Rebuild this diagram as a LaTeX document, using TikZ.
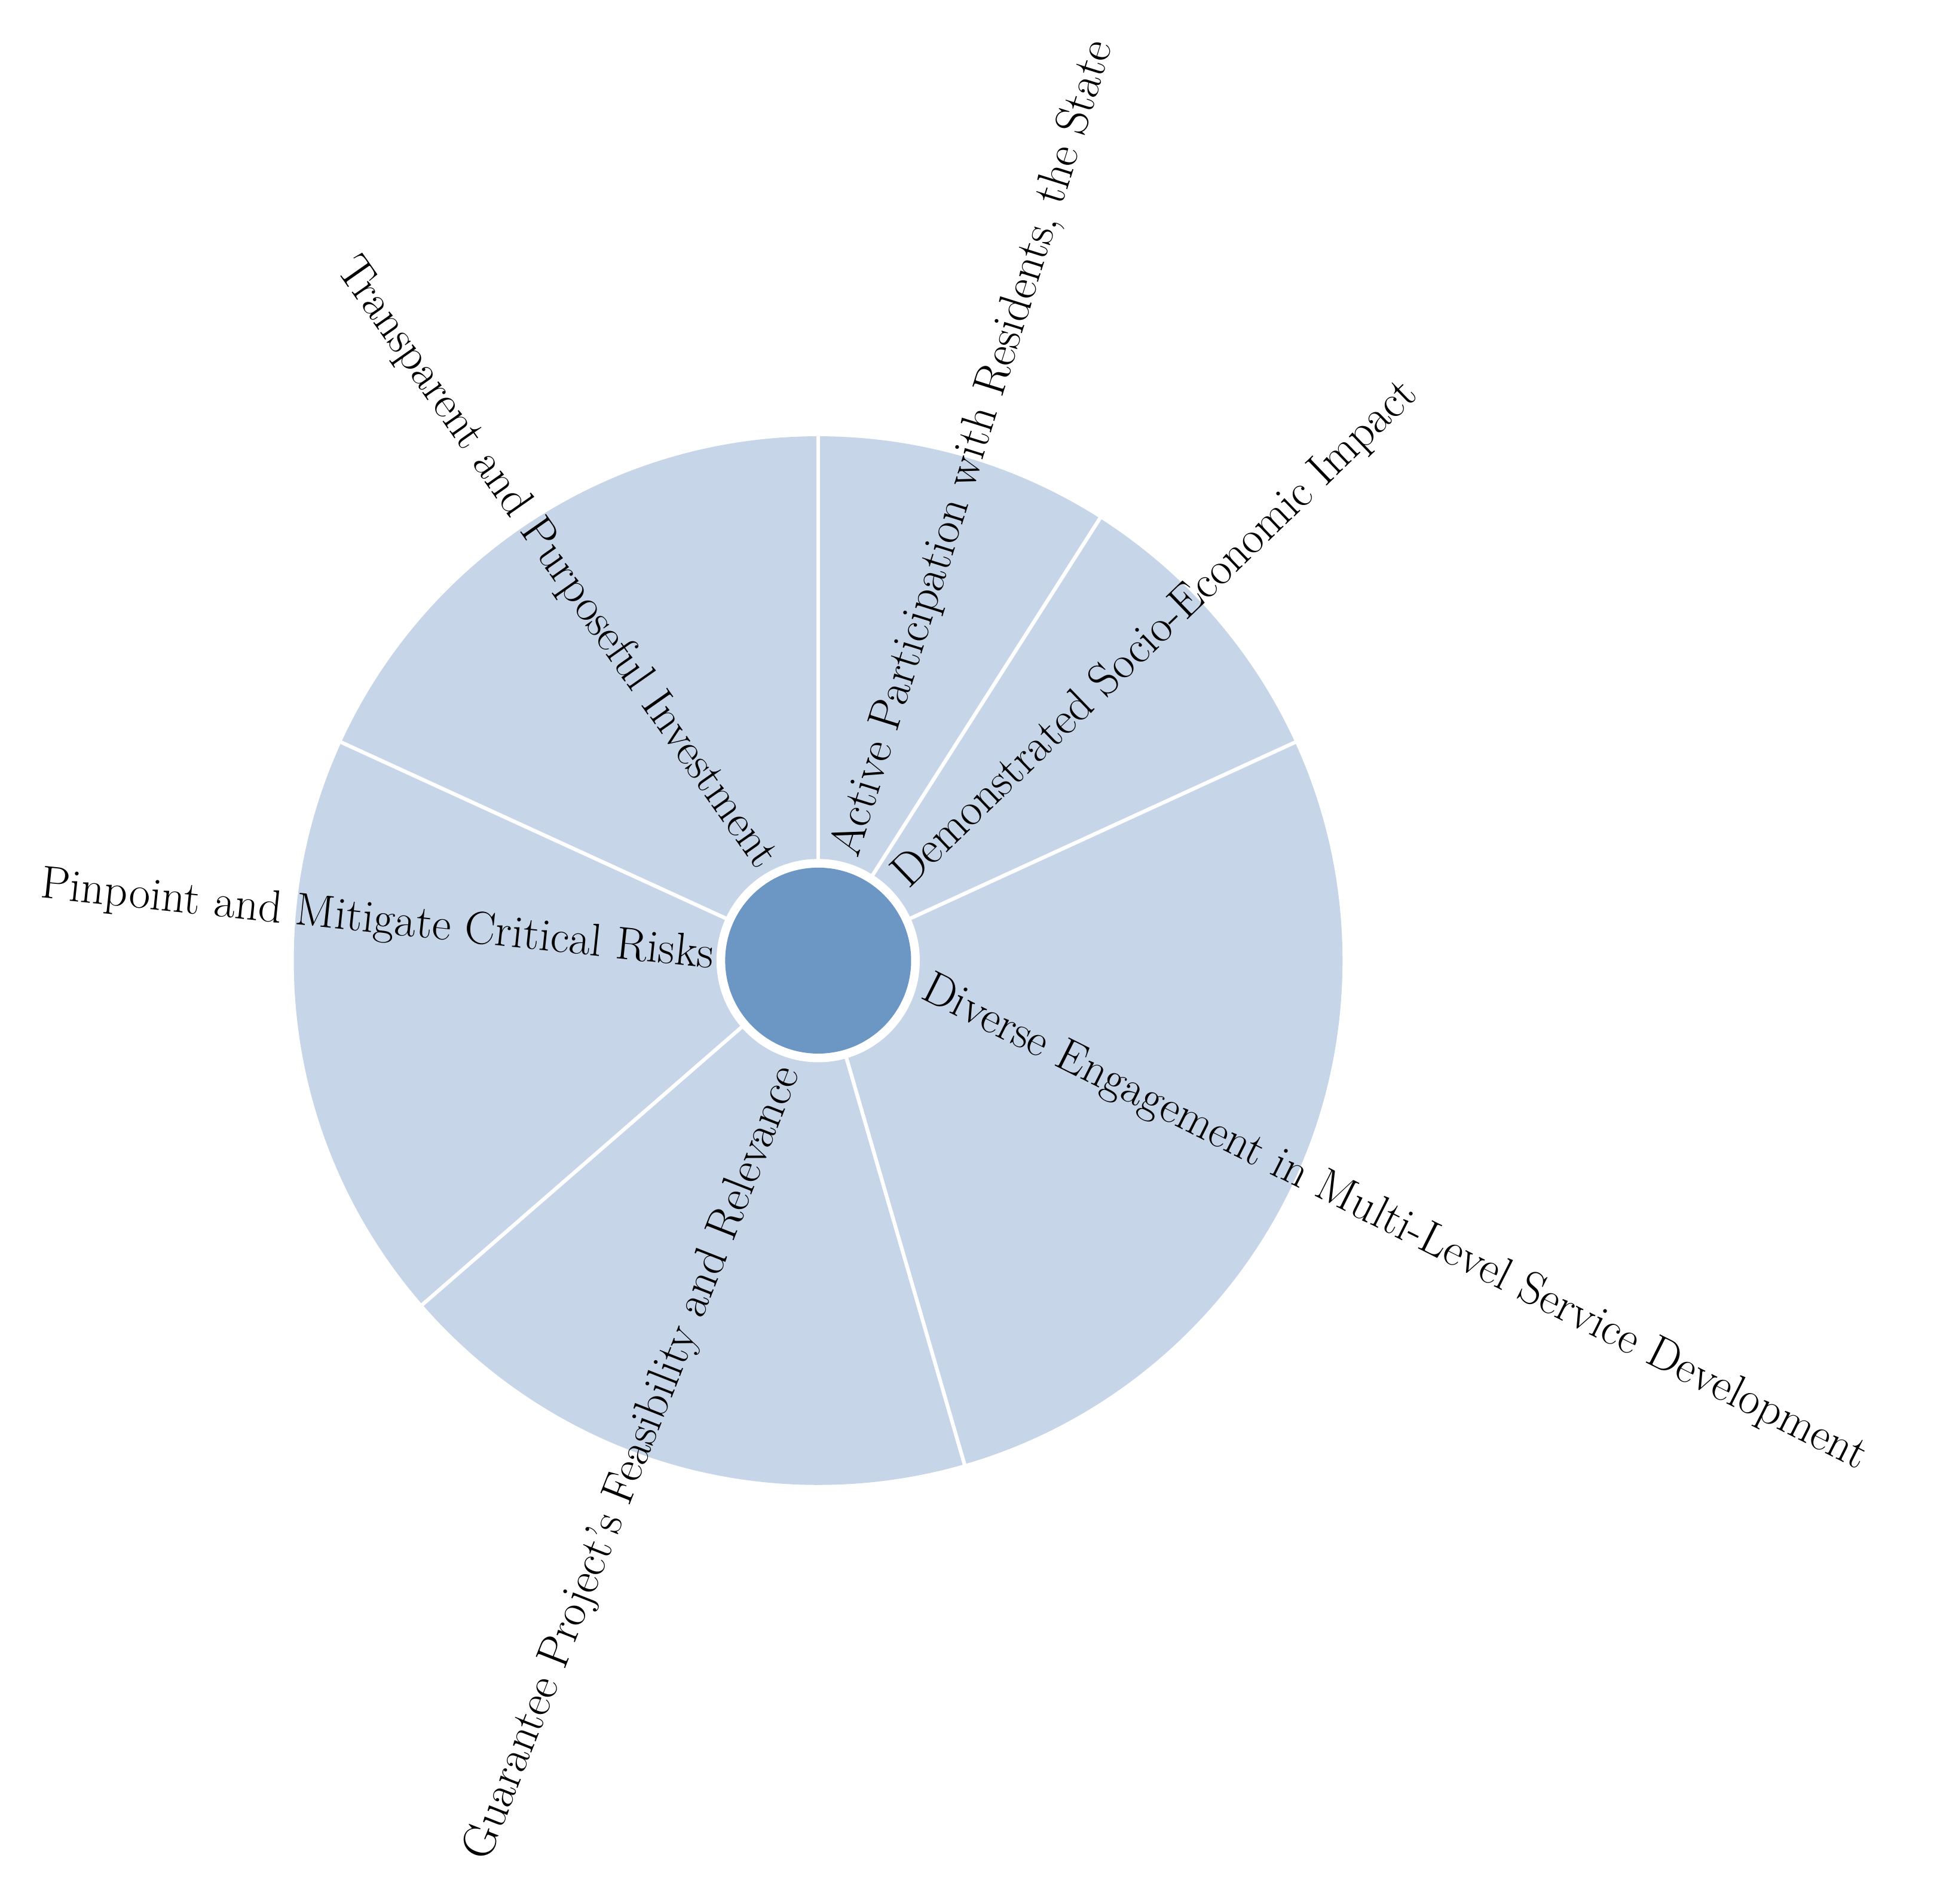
\documentclass[tikz,border=0pt]{standalone}
\usepackage{tikz}
\usetikzlibrary{calc}
\definecolor{seg}{HTML}{C6D5E7}
\definecolor{hub}{HTML}{6C97C4}
\begin{document}
\begin{tikzpicture}[x=0.5pt,y=0.5pt,
  sep/.style={white,line width=1.5pt},
  lab/.style={font=\fontsize{18.6}{21}\selectfont,inner sep=0pt}]
\useasboundingbox (0,0) rectangle (1565,1536);
\coordinate (c) at (660,761);
\fill[seg] (c) circle[radius=423];
\foreach \a in {90,57.5,24.6,-73.8,221,155.4}
  \draw[sep] ($(c)+(\a:70)$) -- ($(c)+(\a:425)$);
\fill[white] (c) circle[radius=82];
\node[circle,fill=hub,minimum size=75pt,inner sep=0pt] (hubn) at (c) {};
\node[lab,anchor=west,rotate=72.6] (t1) at ($(c)+(75:88)$) {Active Participation with Residents, the State};
\node[lab,anchor=west,rotate=44] (t2) at ($(c)+(44:92)$) {Demonstrated Socio-Economic Impact};
\node[lab,anchor=west,rotate=-26.7] (t3) at ($(c)+(-14:88)$) {Diverse Engagement in Multi-Level Service Development};
\node[lab,anchor=east,rotate=68.5] (t4) at ($(c)+(-105:90)$) {Guarantee Project's Feasibility and Relevance};
\node[lab,anchor=east,rotate=-6] (t5) at ($(c)+(178:84)$) {Pinpoint and Mitigate Critical Risks};
\node[lab,anchor=east,rotate=-55] (t6) at ($(c)+(118:88)$) {Transparent and Purposeful Investment};
\end{tikzpicture}
\end{document}
